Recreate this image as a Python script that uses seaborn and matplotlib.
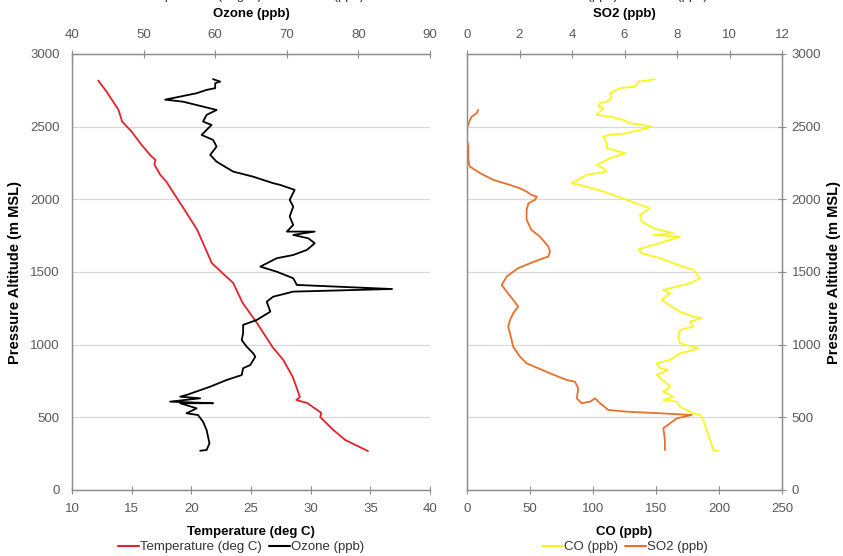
import numpy as np
import pandas as pd
import matplotlib
matplotlib.use("Agg")
import matplotlib.pyplot as plt
from matplotlib.lines import Line2D
import seaborn as sns

# ---- data ----
temp_alt = [2817, 2741, 2615, 2535, 2466, 2388, 2300, 2271, 2240, 2168, 2122, 1906, 1789,
            1583, 1562, 1425, 1287, 1149, 984, 895, 778, 640, 619, 599, 530, 502, 413, 344, 268]
temp_c = [12.2, 12.9, 13.9, 14.2, 15.0, 15.7, 16.6, 17.0, 16.9, 17.4, 17.9, 19.6, 20.5,
          21.6, 21.7, 23.5, 24.3, 25.5, 26.8, 27.7, 28.5, 29.1, 28.8, 29.7, 30.9, 30.8, 31.9, 32.9, 34.8]

ozone_alt = [2827, 2810, 2799, 2765, 2753, 2730, 2686, 2672, 2615, 2581, 2535, 2512, 2478,
             2443, 2409, 2363, 2306, 2259, 2191, 2156, 2111, 2099, 2065, 1996, 1950, 1881,
             1824, 1778, 1778, 1755, 1732, 1698, 1652, 1617, 1595, 1537, 1502, 1457, 1411,
             1383, 1365, 1330, 1296, 1227, 1170, 1136, 1078, 1032, 986, 941, 917, 860, 838,
             791, 757, 711, 654, 642, 631, 608, 597, 597, 562, 528, 516, 470, 413, 321, 275, 270]
ozone_ppb = [59.7, 60.7, 60.0, 60.0, 58.8, 57.4, 53.0, 55.5, 60.2, 58.8, 58.3, 59.5, 58.8,
             58.1, 59.7, 60.2, 59.3, 60.2, 62.5, 65.3, 68.1, 69.1, 71.1, 70.4, 70.9, 70.4,
             70.9, 70.0, 73.9, 70.9, 73.0, 73.9, 72.8, 70.9, 68.6, 66.3, 68.6, 70.9, 71.4,
             84.7, 70.9, 68.1, 67.2, 67.7, 65.8, 63.9, 63.9, 63.7, 64.4, 65.3, 65.6, 64.9, 63.9,
             63.7, 61.6, 59.3, 56.0, 55.1, 57.9, 53.7, 59.7, 55.1, 57.4, 56.0, 57.6, 58.3, 58.8,
             59.2, 58.8, 57.9]

co_alt = [2827, 2817, 2810, 2776, 2765, 2741, 2730, 2696, 2672, 2661, 2638, 2627, 2581, 2569,
          2546, 2524, 2512, 2500, 2478, 2455, 2443, 2432, 2386, 2352, 2340, 2317, 2283, 2271,
          2237, 2214, 2191, 2168, 2111, 2099, 2054, 1996, 1939, 1893, 1847, 1801, 1767, 1755,
          1743, 1721, 1686, 1657, 1629, 1595, 1560, 1514, 1457, 1423, 1411, 1376, 1354, 1308,
          1262, 1227, 1193, 1182, 1158, 1124, 1101, 1055, 1010, 975, 952, 941, 895, 872, 838,
          826, 791, 734, 711, 677, 642, 619, 608, 573, 528, 516, 482, 413, 344, 275, 268]
co_ppb = [149.2, 142.6, 136.0, 133.3, 121.4, 116.1, 113.5, 114.8, 110.9, 105.6, 104.2, 108.2,
          102.9, 113.5, 124.0, 129.4, 138.7, 146.6, 137.3, 126.7, 113.5, 108.2, 110.9, 110.9,
          116.1, 125.4, 113.5, 110.9, 102.9, 108.2, 110.9, 95.0, 83.1, 89.7, 108.2, 126.7,
          145.2, 137.3, 138.7, 147.9, 163.7, 147.9, 169.0, 161.1, 147.9, 136.0, 138.7, 153.2,
          163.7, 179.6, 184.9, 177.0, 171.7, 155.8, 161.1, 154.5, 162.5, 169.0, 179.6, 186.3,
          177.0, 179.6, 169.0, 167.7, 169.0, 183.6, 174.4, 169.0, 161.1, 150.6, 153.2, 159.8,
          150.6, 158.5, 161.1, 155.8, 163.7, 155.8, 166.4, 169.0, 179.6, 184.9, 187.5, 190.2,
          192.9, 195.5, 199.4]

so2_alt = [2615, 2593, 2569, 2546, 2512, 2500, 2409, 2363, 2271, 2225, 2180, 2134, 2099, 2076,
           2053, 2030, 2019, 1996, 1973, 1927, 1858, 1789, 1743, 1675, 1640, 1606, 1595, 1560,
           1526, 1502, 1468, 1411, 1365, 1308, 1262, 1216, 1170, 1124, 1032, 986, 917, 872,
           803, 757, 745, 700, 631, 597, 608, 631, 597, 551, 539, 528, 516, 493, 425, 344, 275]
so2_ppb = [0.43, 0.37, 0.18, 0.11, 0.05, 0.01, 0.0, 0.05, 0.05, 0.11, 0.50, 1.0, 1.64, 2.02,
           2.27, 2.46, 2.66, 2.59, 2.34, 2.27, 2.27, 2.46, 2.78, 3.10, 3.16, 3.10, 2.91, 2.40,
           1.95, 1.76, 1.51, 1.32, 1.51, 1.76, 1.95, 1.76, 1.64, 1.57, 1.70, 1.76, 2.02, 2.27,
           3.16, 3.80, 4.11, 4.24, 4.18, 4.37, 4.69, 4.88, 5.07, 5.38, 6.08, 7.35, 8.56, 7.99,
           7.48, 7.54, 7.54]

temp_df = pd.DataFrame({"x": temp_c, "alt": temp_alt})
ozone_df = pd.DataFrame({"x": ozone_ppb, "alt": ozone_alt})
co_df = pd.DataFrame({"x": co_ppb, "alt": co_alt})
so2_df = pd.DataFrame({"x": so2_ppb, "alt": so2_alt})

RED = "#e8202a"
BLACK = "#000000"
YELLOW = "#f7f71e"
ORANGE = "#e9702a"
AXC = "#8c8c8c"
TXT = "#595959"
FS = 9.5

sns.set_theme(style="white")
plt.rcParams["font.family"] = ["Liberation Sans", "DejaVu Sans"]

fig = plt.figure(figsize=(8.43, 5.56), dpi=100)
axL = fig.add_axes([72 / 843, 1 - 490 / 556, 358 / 843, 436 / 556])
axR = fig.add_axes([467 / 843, 1 - 490 / 556, 315 / 843, 436 / 556])

lab = dict(fontweight="bold", color="#000000", fontsize=9.5)
ylab = dict(fontweight="bold", color="#000000", fontsize=10.5)


def style(ax):
    for s in ax.spines.values():
        s.set_color(AXC)
        s.set_linewidth(0.9)
    ax.tick_params(colors=AXC, labelcolor=TXT, labelsize=FS, length=4, width=0.8)


# ---- left: temperature + ozone ----
sns.lineplot(data=temp_df, x="x", y="alt", sort=False, estimator=None, orient="y",
             color=RED, lw=1.3, ax=axL)
axL.set_xlim(10, 40)
axL.set_ylim(0, 3000)
axL.set_xticks(np.arange(10, 41, 5))
axL.set_yticks(np.arange(0, 3001, 500))
axL.yaxis.grid(True, color="#d9d9d9", lw=0.9)
axL.set_xlabel("Temperature (deg C)", labelpad=8, **lab)
axL.set_ylabel("Pressure Altitude (m MSL)", labelpad=6, **ylab)
style(axL)
axL.spines["right"].set_visible(False)
axL.tick_params(axis="x", direction="inout", length=6, pad=6)
axL.tick_params(axis="y", direction="out", pad=5)

axL2 = axL.twiny()
sns.lineplot(data=ozone_df, x="x", y="alt", sort=False, estimator=None, orient="y",
             color=BLACK, lw=1.3, ax=axL2)
axL2.set_xlim(40, 90)
axL2.set_xticks(np.arange(40, 91, 10))
axL2.set_xlabel("Ozone (ppb)", labelpad=9, **lab)
style(axL2)
axL2.spines["right"].set_visible(False)
axL2.tick_params(axis="x", direction="inout", length=6, pad=6)

# ---- right: CO + SO2 ----
sns.lineplot(data=co_df, x="x", y="alt", sort=False, estimator=None, orient="y",
             color=YELLOW, lw=1.3, ax=axR)
axR.set_xlim(0, 250)
axR.set_ylim(0, 3000)
axR.set_xticks(np.arange(0, 251, 50))
axR.set_yticks(np.arange(0, 3001, 500))
axR.yaxis.grid(True, color="#d9d9d9", lw=0.9)
axR.yaxis.tick_right()
axR.yaxis.set_label_position("right")
axR.set_xlabel("CO (ppb)", labelpad=8, **lab)
axR.set_ylabel("Pressure Altitude (m MSL)", rotation=90, labelpad=4, **ylab)
style(axR)
axR.tick_params(axis="x", direction="inout", length=6, pad=6)
axR.tick_params(axis="y", direction="inout", length=6, pad=4)

axR2 = axR.twiny()
sns.lineplot(data=so2_df, x="x", y="alt", sort=False, estimator=None, orient="y",
             color=ORANGE, lw=1.3, ax=axR2)
axR2.set_xlim(0, 12)
axR2.set_xticks(np.arange(0, 13, 2))
axR2.set_xlabel("SO2 (ppb)", labelpad=9, **lab)
style(axR2)
axR2.tick_params(axis="x", direction="inout", length=6, pad=6)

for a in (axL, axL2, axR, axR2):
    if a.get_legend():
        a.get_legend().remove()

# ---- legends (bottom, plus the clipped copy at the very top) ----
hL = [Line2D([], [], color=RED, lw=1.5), Line2D([], [], color=BLACK, lw=1.5)]
lL = ["Temperature (deg C)", "Ozone (ppb)"]
hR = [Line2D([], [], color=YELLOW, lw=1.5), Line2D([], [], color=ORANGE, lw=1.5)]
lR = ["CO (ppb)", "SO2 (ppb)"]
kw = dict(loc="center", ncol=2, frameon=False, fontsize=FS, handlelength=1.6,
          handletextpad=0.1, columnspacing=0.5, labelcolor="#333333")
fig.legend(hL, lL, bbox_to_anchor=(241 / 843, 1 - 547 / 556), **kw)
fig.legend(hR, lR, bbox_to_anchor=(625 / 843, 1 - 547 / 556), **kw)
fig.legend(hL, lL, bbox_to_anchor=(241 / 843, 1 + 4 / 556), **kw)
fig.legend(hR, lR, bbox_to_anchor=(625 / 843, 1 + 4 / 556), **kw)

fig.savefig("out.png", dpi=100)
